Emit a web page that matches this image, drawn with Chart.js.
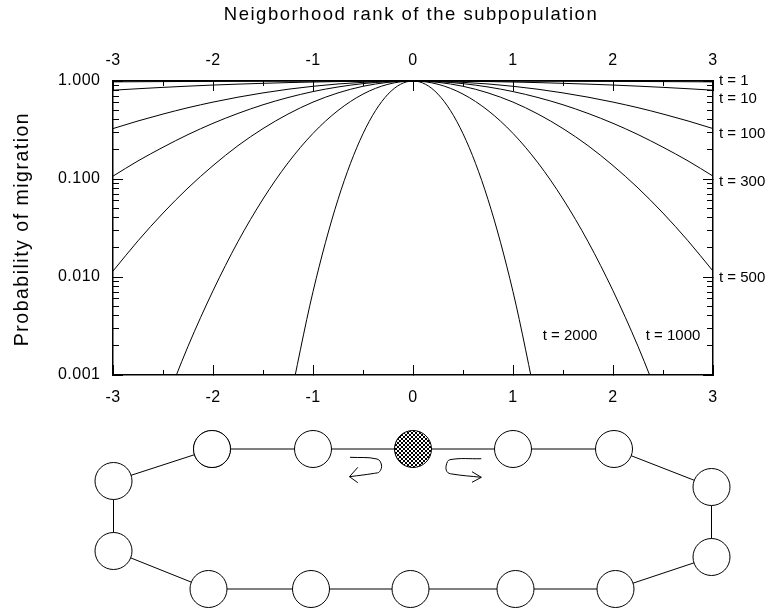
<!DOCTYPE html>
<html>
<head>
<meta charset="utf-8">
<script src="https://cdn.jsdelivr.net/npm/chart.js@4.4.1/dist/chart.umd.min.js"></script>
<style>
  body { margin: 0; background: #fff; }
  #wrap { position: relative; width: 768px; height: 613px; }
  #plot { position: absolute; left: 0; top: 0; }
  #ring { position: absolute; left: 0; top: 409px; }
</style>
</head>
<body>
<div id="wrap">
  <canvas id="plot" width="768" height="410"></canvas>
  <canvas id="ring" width="768" height="204"></canvas>
</div>
<script>
// texts
const mainTitle = 'Neigborhood rank of the subpopulation';
const yTitle = 'Probability of migration';

// axis ticks
const rankTicks = [-3, -2, -1, 0, 1, 2, 3];
const rankMinorTicks = [-2.5, -1.5, -0.5, 0.5, 1.5, 2.5];
const probTicks = [0.001, 0.01, 0.1, 1];
const probTickLabels = ['0.001', '0.010', '0.100', '1.000'];
const probMinorTicks = [
  0.002, 0.003, 0.004, 0.005, 0.006, 0.007, 0.008, 0.009,
  0.02, 0.03, 0.04, 0.05, 0.06, 0.07, 0.08, 0.09,
  0.2, 0.3, 0.4, 0.5, 0.6, 0.7, 0.8, 0.9
];

// neighbourhood rank (x) and migration probability for each t
const ranks = [-3, -2.75, -2.5, -2.25, -2, -1.75, -1.5, -1.25, -1, -0.75, -0.5, -0.25, 0,
               0.25, 0.5, 0.75, 1, 1.25, 1.5, 1.75, 2, 2.25, 2.5, 2.75, 3];
const probT1 = [0.980, 0.983, 0.986, 0.989, 0.991, 0.993, 0.995, 0.997, 0.998, 0.999, 0.999, 1.000, 1.000,
                1.000, 0.999, 0.999, 0.998, 0.997, 0.995, 0.993, 0.991, 0.989, 0.986, 0.983, 0.980];
const probT10 = [0.806, 0.834, 0.861, 0.886, 0.909, 0.929, 0.947, 0.963, 0.976, 0.987, 0.994, 0.998, 1.000,
                 0.998, 0.994, 0.987, 0.976, 0.963, 0.947, 0.929, 0.909, 0.886, 0.861, 0.834, 0.806];
const probT100 = [0.327, 0.391, 0.460, 0.534, 0.609, 0.684, 0.756, 0.824, 0.883, 0.933, 0.969, 0.992, 1.000,
                  0.992, 0.969, 0.933, 0.883, 0.824, 0.756, 0.684, 0.609, 0.534, 0.460, 0.391, 0.327];
const probT300 = [0.107, 0.153, 0.211, 0.284, 0.370, 0.467, 0.572, 0.678, 0.780, 0.869, 0.940, 0.985, 1.000,
                  0.985, 0.940, 0.869, 0.780, 0.678, 0.572, 0.467, 0.370, 0.284, 0.211, 0.153, 0.107];
const probT500 = [0.0115, 0.0234, 0.0449, 0.0810, 0.137, 0.219, 0.327, 0.460, 0.609, 0.756, 0.883, 0.969, 1.000,
                  0.969, 0.883, 0.756, 0.609, 0.460, 0.327, 0.219, 0.137, 0.0810, 0.0449, 0.0234, 0.0115];
const probT1000 = [null, null, 0.00045, 0.00196, 0.00724, 0.0230, 0.0625, 0.146, 0.292, 0.500, 0.735, 0.926, 1.000,
                   0.926, 0.735, 0.500, 0.292, 0.146, 0.0625, 0.0230, 0.00724, 0.00196, 0.00045, null, null];
const probT2000 = [null, null, null, null, null, null, null, 0.00044, 0.00708, 0.0618, 0.290, 0.734, 1.000,
                   0.734, 0.290, 0.0618, 0.00708, 0.00044, null, null, null, null, null, null, null];

// curve labels and where they sit (rank, probability)
const curveNames = ['t = 1', 't = 10', 't = 100', 't = 300', 't = 500', 't = 1000', 't = 2000'];
const nameRank = [3, 3, 3, 3, 3, 2.6, 1.57];
const nameProb = [1.0, 0.65, 0.29, 0.094, 0.0099, 0.0025, 0.0025];

// ring of subpopulations (rank units across, rows down)
const nodeRank = [-2.01, -1.0, 0, 1.0, 2.01, 2.985, 2.985, 2.025, 1.025, -0.025, -1.02, -2.045, -2.995, -2.995];
const nodeRow = [1.6, 1.6, 1.6, 1.6, 1.6, 1.22, 0.52, 0.2, 0.2, 0.2, 0.2, 0.2, 0.58, 1.28];
const focalNode = 2;

// the two turning arrows next to the focal subpopulation
const leftHookRank = [-0.63, -0.36, -0.315, -0.335, -0.385, -0.635];
const leftHookRow = [1.517, 1.50, 1.44, 1.373, 1.357, 1.323];
const leftHeadRank = [-0.552, -0.635, -0.552];
const leftHeadRow = [1.417, 1.323, 1.263];
const rightHookRank = [0.683, 0.37, 0.333, 0.34, 0.39, 0.683];
const rightHookRow = [1.503, 1.493, 1.44, 1.373, 1.35, 1.317];
const rightHeadRank = [0.59, 0.683, 0.59];
const rightHeadRow = [1.373, 1.317, 1.267];

const fontFamily = '"Liberation Sans", Arial, sans-serif';
Chart.defaults.font.family = fontFamily;
Chart.defaults.color = '#000';

const zip = (xs, ys) => xs.map((x, i) => ({ x: x, y: ys[i] }));

const curve = values => ({
  data: zip(ranks, values),
  borderColor: '#000',
  borderWidth: 1,
  pointRadius: 0,
  cubicInterpolationMode: 'monotone',
  spanGaps: false,
  xAxisID: 'x',
  yAxisID: 'y'
});

const setTicks = values => scale => { scale.ticks = values.map(v => ({ value: v })); };

// one axis of the frame: major ticks (with or without labels) or minor ticks, all pointing inward
const frameAxis = (type, position, opts) => ({
  type: type,
  position: position,
  weight: opts.minor ? 0 : 1,
  min: type === 'logarithmic' ? 0.001 : -3,
  max: type === 'logarithmic' ? 1 : 3,
  afterBuildTicks: setTicks(opts.ticks),
  afterFit: scale => {
    if (position === 'top' || position === 'bottom') scale.height = opts.size;
    else scale.width = opts.size;
  },
  ticks: {
    display: !!opts.labels,
    callback: opts.labels ? (v, i) => opts.labels[i] : undefined,
    font: { size: 16 },
    color: '#000',
    padding: opts.padding || 0,
    autoSkip: false,
    maxRotation: 0
  },
  grid: {
    drawOnChartArea: false,
    tickLength: opts.minor ? -opts.tick : -10,
    color: '#000',
    lineWidth: 1
  },
  border: { display: !opts.minor, color: '#000', width: 1.5 }
});

const textPlugin = {
  id: 'texts',
  beforeDraw(chart) {
    chart.ctx.letterSpacing = '0.5px';
  },
  afterDraw(chart) {
    const { ctx, chartArea, scales } = chart;
    ctx.save();
    ctx.fillStyle = '#000';
    ctx.textBaseline = 'alphabetic';
    ctx.textAlign = 'center';
    ctx.letterSpacing = '1.5px';
    ctx.font = '18.5px ' + fontFamily;
    ctx.fillText(mainTitle, (chartArea.left + chartArea.right) / 2 - 2, 20);
    ctx.save();
    ctx.translate(28, (chartArea.top + chartArea.bottom) / 2 + 1);
    ctx.rotate(-Math.PI / 2);
    ctx.font = '19.5px ' + fontFamily;
    ctx.fillText(yTitle, 0, 0);
    ctx.restore();

    ctx.letterSpacing = '0px';
    ctx.font = '15px ' + fontFamily;
    ctx.textBaseline = 'middle';
    curveNames.forEach((name, i) => {
      const px = scales.x.getPixelForValue(nameRank[i]);
      const py = scales.y.getPixelForValue(nameProb[i]);
      if (nameRank[i] >= scales.x.max) {
        ctx.textAlign = 'left';
        ctx.fillText(name, px + 6, py);
      } else {
        ctx.textAlign = 'center';
        ctx.fillText(name, px, py);
      }
    });
    ctx.restore();
  }
};

new Chart(document.getElementById('plot'), {
  type: 'line',
  data: {
    datasets: [
      curve(probT1), curve(probT10), curve(probT100), curve(probT300),
      curve(probT500), curve(probT1000), curve(probT2000)
    ]
  },
  options: {
    responsive: false,
    animation: false,
    events: [],
    layout: { padding: 0, autoPadding: false },
    plugins: { legend: { display: false }, tooltip: { enabled: false } },
    scales: {
      x: frameAxis('linear', 'bottom', { ticks: rankTicks, labels: rankTicks.map(String), size: 35, padding: 23.4 }),
      xMinor: frameAxis('linear', 'bottom', { ticks: rankMinorTicks, minor: true, tick: 5, size: 0 }),
      xTop: frameAxis('linear', 'top', { ticks: rankTicks, labels: rankTicks.map(String), size: 81, padding: 20.4 }),
      xTopMinor: frameAxis('linear', 'top', { ticks: rankMinorTicks, minor: true, tick: 5, size: 0 }),
      y: frameAxis('logarithmic', 'left', { ticks: probTicks, labels: probTickLabels, size: 113, padding: 22.5 }),
      yMinor: frameAxis('logarithmic', 'left', { ticks: probMinorTicks, minor: true, tick: 6, size: 0 }),
      yRight: frameAxis('logarithmic', 'right', { ticks: probTicks, size: 55 }),
      yRightMinor: frameAxis('logarithmic', 'right', { ticks: probMinorTicks, minor: true, tick: 6, size: 0 })
    }
  },
  plugins: [textPlugin]
});

// cross-hatched fill for the focal subpopulation
function hatchPattern() {
  const c = document.createElement('canvas');
  c.width = 4;
  c.height = 4;
  const g = c.getContext('2d');
  g.fillStyle = '#fff';
  g.fillRect(0, 0, 4, 4);
  g.strokeStyle = '#000';
  g.lineWidth = 1;
  g.beginPath();
  g.moveTo(0, 0); g.lineTo(4, 4);
  g.moveTo(4, 0); g.lineTo(0, 4);
  g.stroke();
  return g.createPattern(c, 'repeat');
}
const hatch = hatchPattern();

const stroke = (points, tension) => ({
  data: points,
  showLine: true,
  borderColor: '#000',
  borderWidth: 1,
  pointRadius: 0,
  tension: tension,
  clip: false
});

const ringPoints = zip(nodeRank, nodeRow);
ringPoints.push(ringPoints[0]);

new Chart(document.getElementById('ring'), {
  type: 'line',
  data: {
    datasets: [
      {
        data: ringPoints,
        borderColor: '#000',
        borderWidth: 1,
        tension: 0,
        pointRadius: 18.5,
        pointBorderWidth: 1,
        pointBorderColor: '#000',
        pointBackgroundColor: ctx => ctx.dataIndex === focalNode ? hatch : '#fff',
        clip: false
      },
      stroke(zip(leftHookRank, leftHookRow), 0.4),
      stroke(zip(leftHeadRank, leftHeadRow), 0),
      stroke(zip(rightHookRank, rightHookRow), 0.4),
      stroke(zip(rightHeadRank, rightHeadRow), 0)
    ]
  },
  options: {
    responsive: false,
    animation: false,
    events: [],
    layout: { padding: { left: 113, right: 55, top: 0, bottom: 4 }, autoPadding: false },
    plugins: { legend: { display: false }, tooltip: { enabled: false } },
    scales: {
      x: { type: 'linear', min: -3, max: 3, display: false },
      y: { type: 'linear', min: 0, max: 2, display: false }
    }
  }
});
</script>
</body>
</html>
